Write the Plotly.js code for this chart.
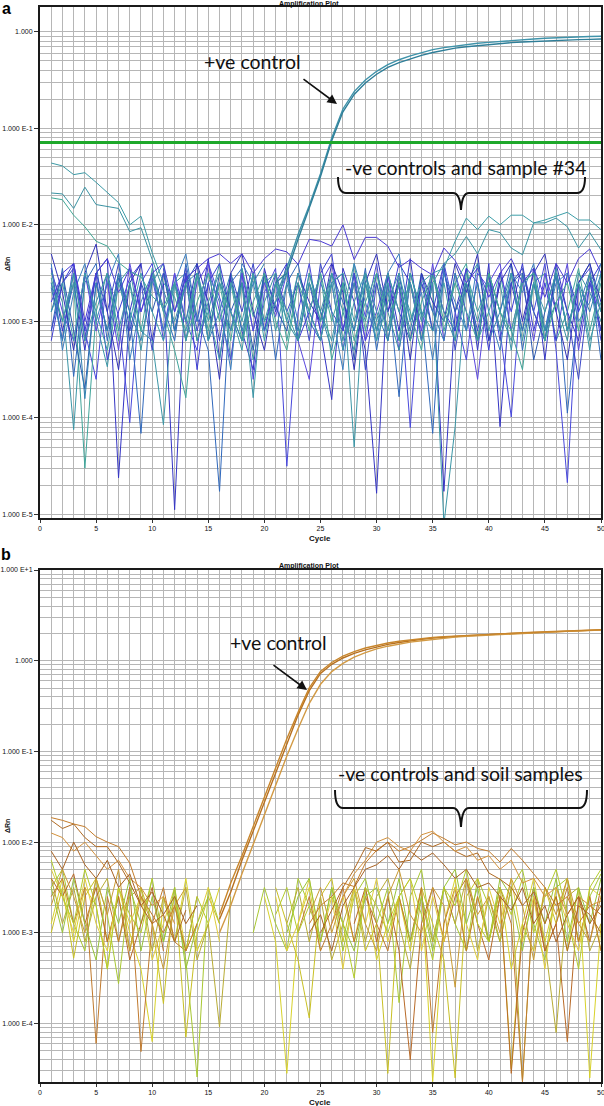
<!DOCTYPE html>
<html>
<head>
<meta charset="utf-8">
<script src="https://cdn.plot.ly/plotly-3.0.1.min.js"></script>
<style>
html,body{margin:0;padding:0;background:#fff;}
#chart{width:604px;height:1106px;}
</style>
</head>
<body>
<div id="chart"></div>
<script>
// ---------- DATA (values are log10 of ΔRn, null = not plotted) ----------
const cycles = [1,2,3,4,5,6,7,8,9,10,11,12,13,14,15,16,17,18,19,20,21,22,23,24,25,26,27,28,29,30,31,32,33,34,35,36,37,38,39,40,41,42,43,44,45,46,47,48,49,50];
const xTickVals = [0,5,10,15,20,25,30,35,40,45,50];
const xTickLabels = ["0","5","10","15","20","25","30","35","40","45","50"];
const aDecades = [-5,-4,-3,-2,-1,0];
const aDecadeLabels = ["1.000 E-5","1.000 E-4","1.000 E-3","1.000 E-2","1.000 E-1","1.000"];
const bDecades = [-4,-3,-2,-1,0,1];
const bDecadeLabels = ["1.000 E-4","1.000 E-3","1.000 E-2","1.000 E-1","1.000","1.000 E+1"];
const aThreshold = 0.0713;

// Panel a: positive controls
const aPos1 = [null,null,null,null,null,null,null,null,null,null,null,null,null,null,null,null,null,null,null,null,-2.75,-2.45,-2.1,-1.8,-1.47,-1.1,-0.8,-0.62,-0.5,-0.41,-0.34,-0.29,-0.25,-0.215,-0.185,-0.165,-0.148,-0.133,-0.12,-0.11,-0.10,-0.09,-0.083,-0.075,-0.068,-0.062,-0.057,-0.053,-0.05,-0.047];
const aPos2 = [null,null,null,null,null,null,null,null,null,null,null,null,null,null,null,null,null,null,null,null,-2.6,-2.5,-2.15,-1.83,-1.5,-1.13,-0.83,-0.65,-0.53,-0.44,-0.37,-0.32,-0.28,-0.245,-0.215,-0.19,-0.17,-0.155,-0.143,-0.132,-0.122,-0.113,-0.106,-0.1,-0.094,-0.089,-0.085,-0.082,-0.079,-0.076];
// Panel a: negatives
const aTeal1 = [-1.36,-1.39,-1.48,-1.46,-1.56,-1.67,-1.77,-2.0,-1.91,-2.29,-2.6,-2.75,-3.1,-2.5,-3.2,-2.6,-2.9,-3.3,-2.5,-3.0,-2.6,-2.9,-3.2,-2.5,-3.0,-2.6,-3.3,-2.8,-2.5,-3.1,-2.6,-3.2,-2.5,-2.9,-3.1,-2.6,-3.2,-2.5,-2.9,-2.6,-3.1,-2.5,-3.2,-2.6,-2.9,-2.5,-3.1,-2.6,-3.2,-2.8];
const aTeal2 = [-1.67,-1.68,-1.83,-1.61,-1.79,-1.81,-1.83,-2.07,-2.03,-2.36,-2.67,-3.0,-2.6,-3.2,-2.8,-2.5,-3.1,-2.6,-3.4,-2.8,-2.5,-3.0,-3.2,-2.6,-2.9,-2.5,-3.2,-2.6,-3.0,-2.5,-2.9,-3.3,-2.6,-3.0,-2.5,-2.9,-3.2,-2.6,-3.0,-2.5,-2.9,-3.2,-2.6,-2.5,-3.1,-2.8,-3.2,-2.5,-2.7,-3.0];
const aTeal3 = [-1.72,-1.74,-1.9,-2.02,-2.17,-2.22,-2.39,-2.48,-2.54,-2.74,-2.85,-2.6,-3.2,-2.8,-2.5,-3.0,-2.6,-3.2,-2.8,-2.5,-3.0,-3.3,-2.6,-2.9,-2.5,-3.0,-2.6,-3.2,-2.8,-2.5,-3.1,-2.6,-3.2,-2.8,-2.5,-3.0,-2.6,-2.9,-3.2,-2.5,-2.9,-3.1,-2.6,-2.5,-3.2,-2.8,-2.6,-3.1,-2.5,-2.9];
const aLate1 = [-2.9,-2.6,-3.2,-2.5,-2.9,-3.3,-2.6,-3.0,-2.5,-2.9,-3.2,-2.6,-3.0,-2.5,-2.9,-3.4,-2.6,-3.0,-2.5,-3.2,-2.6,-3.0,-2.5,-2.9,-3.2,-2.6,-2.5,-3.0,-2.6,-3.2,-2.8,-2.5,-3.0,-2.6,-2.5,-2.45,-2.17,-1.93,-2.05,-1.91,-2.0,-1.9,-1.9,-1.98,-1.95,-1.91,-1.87,-1.95,-1.95,-2.05];
const aLate2 = [-2.6,-3.0,-2.5,-3.2,-2.8,-2.5,-3.1,-2.6,-3.3,-2.5,-2.9,-2.6,-3.2,-2.5,-3.0,-2.6,-2.9,-3.2,-2.5,-3.0,-2.8,-2.5,-3.2,-2.6,-3.0,-2.5,-2.9,-3.3,-2.6,-3.0,-2.5,-2.9,-2.6,-3.2,-2.6,-2.4,-2.3,-2.12,-2.3,-2.05,-2.08,-2.24,-2.31,-1.98,-1.98,-1.93,-2.02,-2.24,-2.08,-2.26];
const aPurple = [-2.8,-2.5,-2.4,-3.0,-2.5,-2.35,-2.7,-2.45,-2.9,-2.5,-2.4,-2.9,-2.55,-2.45,-2.35,-2.3,-2.4,-2.3,-2.5,-2.35,-2.25,-2.28,-2.41,-2.15,-2.17,-2.22,-2.0,-2.36,-2.13,-2.13,-2.22,-2.44,-2.36,-2.45,-2.52,-2.24,-2.37,-2.6,-2.45,-2.75,-2.5,-2.35,-2.6,-2.45,-2.75,-2.4,-2.6,-2.35,-2.25,-2.5];
const aNeg1 = [-2.45,-3.1,-2.6,-3.3,-2.5,-2.35,-4.62,-2.9,-2.4,-3.2,-2.6,-4.95,-2.5,-3.0,-2.35,-3.4,-2.55,-3.1,-3.5,-2.45,-2.9,-2.4,-3.2,-2.6,-3.1,-3.81,-2.45,-2.8,-3.3,-4.78,-2.5,-3.1,-2.35,-3.2,-2.6,-4.76,-2.9,-2.45,-3.3,-2.4,-4.09,-2.6,-3.1,-2.45,-3.4,-2.4,-2.9,-3.2,-2.5,-3.1];
const aNeg2 = [-2.6,-3.19,-2.4,-3.1,-3.6,-2.5,-2.95,-4.05,-2.6,-2.4,-3.2,-2.5,-3.0,-3.3,-2.4,-2.75,-3.1,-2.5,-3.6,-2.7,-2.45,-4.5,-2.9,-2.4,-3.1,-2.6,-3.3,-2.5,-2.95,-2.4,-3.2,-2.6,-4.1,-2.5,-3.1,-2.4,-2.9,-3.4,-2.5,-2.65,-3.1,-3.99,-2.5,-2.9,-2.4,-3.3,-4.67,-2.6,-2.45,-3.2];
const aNeg3 = [-3.1,-2.45,-3.57,-2.6,-2.4,-3.2,-2.55,-2.9,-4.16,-2.5,-2.85,-3.2,-2.4,-2.95,-3.3,-4.76,-2.6,-2.45,-3.1,-2.5,-3.4,-2.6,-2.4,-3.0,-3.2,-2.5,-2.8,-3.1,-2.45,-3.3,-2.6,-3.78,-2.5,-2.9,-4.16,-2.45,-3.1,-2.6,-3.2,-2.5,-2.9,-2.4,-3.3,-2.6,-3.1,-2.5,-3.95,-2.85,-2.5,-3.4];
const aNeg4 = [-2.5,-2.8,-4.12,-2.5,-3.0,-3.47,-2.6,-2.45,-3.1,-3.2,-4.07,-2.6,-2.5,-3.2,-2.9,-2.4,-3.4,-2.6,-3.79,-2.5,-3.1,-2.6,null,-2.5,-2.9,-3.2,-2.6,-4.3,-2.5,-3.1,-2.7,-3.2,-2.5,-2.95,-2.6,-5.1,-4.09,-2.6,-2.4,-3.1,-2.6,-3.3,-2.5,-2.9,-3.2,-2.45,-3.1,-2.6,-3.3,-2.5];
const aNeg5 = [-2.55,-3.0,-2.6,-4.52,-2.9,-2.5,-3.2,-2.6,-3.1,-2.45,-2.9,-3.3,-3.79,-2.5,-3.1,-2.6,-3.2,-2.45,-2.95,-2.6,-2.5,-3.2,-2.6,-3.1,-2.5,-3.4,-2.9,-2.4,-3.1,-2.6,-3.2,-2.55,-2.9,-3.3,-2.5,-3.1,-2.6,-2.4,-3.2,-2.9,-2.5,-3.1,-3.5,-2.6,-2.5,-3.2,-2.9,-2.45,-3.1,-2.6];
const aNeg6 = [-3.2,-2.6,-2.4,-3.1,-2.5,-3.4,-2.9,-2.55,-2.4,null,-2.45,-3.1,-2.5,-3.5,-2.6,-2.4,-2.9,-3.2,-2.5,-3.1,-2.6,-2.4,-3.2,-2.9,-2.5,-2.3,-3.1,-2.6,-3.2,-2.5,-2.9,-2.4,-2.6,-3.2,-2.5,-2.9,-3.1,-2.45,-2.6,-3.3,-2.5,-2.9,-2.4,-3.1,-2.6,-3.2,-2.5,-2.9,-2.6,-2.4];
const aNeg7 = [-2.45,-2.9,-3.2,-2.5,-3.1,-2.6,-3.3,-2.4,-2.9,-2.55,-3.1,-2.5,-3.2,-2.6,-2.4,-2.9,-3.4,-2.5,-3.1,-2.6,-2.95,-2.5,-3.2,-3.6,-2.6,-2.4,-3.1,-2.5,-3.2,-2.9,-2.5,-3.3,-2.6,-3.1,-2.4,-3.2,-2.5,-2.9,-3.6,-2.6,-2.4,-3.1,-2.6,-3.2,-2.5,-2.9,-2.4,-3.3,-2.6,-2.9];
const aNeg8 = [-2.9,-2.5,-3.1,-3.7,-2.6,-3.1,-2.5,-3.2,-2.6,-2.9,-2.5,-3.1,-2.6,-2.4,-3.2,-2.5,-2.9,-2.6,-3.3,-2.5,-2.85,-3.1,-2.5,-2.9,-3.2,-2.6,-2.5,-3.4,-2.6,-3.1,-2.5,-2.9,-3.2,-2.6,-3.1,-2.5,-2.9,-2.6,-3.2,-2.5,-3.1,-2.6,-2.5,-3.4,-2.9,-2.5,-3.1,-2.6,-2.4,-2.9];
const aNeg9 = [-3.1,-2.6,-2.45,-3.2,-2.5,-2.9,-2.4,-3.1,-2.6,-3.3,-2.5,-2.9,-2.45,-3.1,-2.6,-3.2,-2.5,-2.9,-2.4,-3.1,-2.5,-2.9,-2.6,-3.2,-2.4,-2.9,-3.1,-2.5,-3.5,-2.6,-3.1,-2.5,-3.2,-2.6,-2.9,-2.4,-3.3,-2.6,-3.1,-2.5,-3.2,-2.6,-2.45,-2.9,-3.2,-2.5,-2.9,-3.6,-2.6,-3.1];
const aNeg10 = [-2.65,-3.2,-2.5,-3.8,-2.6,-3.1,-2.5,-2.9,-3.2,-2.6,-2.4,-3.1,-2.6,-2.5,-3.2,-2.9,-2.5,-3.1,-2.6,-2.4,null,-2.6,-3.1,-2.5,-2.9,-3.3,-2.6,-3.1,-2.5,-2.9,-3.2,-2.6,-3.1,-2.5,-2.9,-3.2,-2.5,-3.1,-2.6,-3.2,-2.9,-2.5,-3.1,-2.6,-3.2,-2.5,-3.1,-2.6,-2.9,-2.5];
const aNeg11 = [-2.3,-2.7,-3.3,-2.5,-2.2,-2.9,-3.5,-2.6,-2.4,null,null,-2.6,-3.0,-2.4,-2.8,-3.6,-2.5,-2.3,-2.9,-3.3,-2.6,null,-2.5,-2.8,-3.0,-2.4,-2.7,-3.5,-2.6,-2.3,-2.9,-2.6,-3.4,-2.5,-2.8,-3.0,-2.4,-2.7,-2.3,-3.2,-2.6,-2.4,-3.0,-2.5,-2.3,-2.9,-3.4,-2.6,-2.4,-2.8];
const aNeg12 = [-2.4,-3.3,-2.7,-2.4,-3.0,-2.6,-2.3,-3.4,-2.8,-2.5,-3.1,-2.6,-2.3,-3.0,-2.5,-2.8,-3.5,-2.4,-2.6,-3.1,-2.8,-2.5,-3.0,null,-2.6,-2.9,-3.5,-2.4,-2.8,-3.2,-2.5,-2.3,-3.0,-2.7,-3.4,-2.5,-2.8,-3.1,-2.4,-2.9,-3.3,-2.5,-2.7,-2.4,-3.1,-2.6,-2.5,-3.0,-2.8,-2.4];

// Panel b: positive controls
const bPos1 = [null,null,null,null,null,null,null,null,null,null,null,null,null,null,null,-2.85,-2.55,-2.2,-1.88,-1.55,-1.22,-0.9,-0.6,-0.33,-0.14,-0.04,0.03,0.08,0.12,0.15,0.18,0.2,0.22,0.235,0.25,0.26,0.27,0.275,0.28,0.29,0.295,0.3,0.305,0.31,0.315,0.32,0.325,0.33,0.335,0.34];
const bPos2 = [null,null,null,null,null,null,null,null,null,null,null,null,null,null,null,-3.0,-2.7,-2.35,-2.02,-1.7,-1.37,-1.05,-0.75,-0.47,-0.26,-0.12,-0.03,0.04,0.09,0.13,0.16,0.185,0.205,0.22,0.235,0.25,0.26,0.27,0.275,0.283,0.29,0.296,0.302,0.308,0.313,0.318,0.323,0.328,0.333,0.337];
const bPos3 = [null,null,null,null,null,null,null,null,null,null,null,null,null,null,null,-2.8,-2.45,-2.15,-1.83,-1.5,-1.18,-0.86,-0.57,-0.3,-0.12,-0.02,0.05,0.1,0.14,0.17,0.195,0.215,0.23,0.245,0.255,0.265,0.272,0.28,0.285,0.292,0.298,0.303,0.308,0.313,0.318,0.323,0.328,0.333,0.337,0.342];
// Panel b: negatives and soil samples
const bHump1 = [-1.73,-1.76,-1.8,-1.83,-1.94,-2.0,-2.05,-2.23,-2.6,-2.8,-3.0,-2.7,-3.2,-2.9,null,null,null,null,null,null,null,null,null,-2.9,-2.7,-2.6,-2.45,-2.49,-2.23,-2.09,-2.0,-2.1,-2.05,-1.98,-1.9,-1.96,-2.03,-2.0,-2.07,-2.1,-2.22,-2.07,-2.2,-2.35,-2.5,-2.7,-2.6,-2.9,-2.7,-2.8];
const bHump2 = [-1.76,-1.85,-1.8,-1.95,-2.05,-2.05,-2.23,-2.45,-2.7,-2.9,-2.8,-3.1,-2.75,null,null,null,null,null,null,null,null,null,null,null,-3.0,-2.75,-2.5,-2.3,-2.06,-2.1,-2.0,-2.22,-2.2,-2.0,-2.05,-2.0,-2.1,-2.16,-2.12,-2.34,-2.41,-2.5,-2.7,-2.55,-2.9,-2.6,-3.2,-2.7,-2.8,-3.0];
const bHump3 = [-1.9,-1.95,-2.1,-2.0,-2.15,-2.3,-2.2,-2.4,-2.5,-2.7,-2.6,-2.9,null,null,null,null,null,null,null,null,null,null,null,null,null,-2.9,-2.6,-2.35,-2.2,-2.0,-1.95,-2.05,-2.1,-1.92,-1.88,-2.0,-2.1,-2.05,-2.2,-2.15,-2.3,-2.2,-2.45,-2.4,-2.6,-2.5,-2.8,-2.6,-2.7,-2.65];
const bHump4 = [-2.1,-2.3,-2.0,-2.25,-2.4,-2.2,-2.5,-2.35,-2.7,-2.55,-2.8,-2.6,-2.9,-2.7,null,null,null,null,null,null,null,null,null,-3.0,-2.8,-3.2,-2.7,-2.5,-2.3,-2.25,-2.15,-2.3,-2.1,-2.2,-2.12,-2.25,-2.4,-2.3,-2.5,-2.45,-2.6,-2.75,-2.5,-2.9,-2.7,-3.1,-2.8,-2.6,-2.9,-2.7];
const bNeg1 = [-2.9,-2.4,-3.1,-2.5,-2.7,-3.4,-2.5,-3.0,-3.4,-4.2,-2.6,-3.1,-2.4,-3.2,-2.9,-2.5,null,null,null,-2.6,-3.1,-4.55,-2.9,-2.5,-3.2,null,-2.6,-3.1,-2.5,-3.3,-2.9,-2.6,-3.2,-2.5,-4.64,-2.9,-2.4,-3.2,-2.6,-3.1,-2.5,-3.4,-2.9,-2.4,-3.1,-2.6,-3.2,-2.5,-4.6,-2.9];
const bNeg2 = [-2.5,-2.3,-2.9,-3.2,-2.4,-2.8,-3.56,-2.5,-2.9,-2.4,-3.1,-2.6,-3.3,-4.59,-2.5,-2.9,null,null,-3.0,-2.5,-2.9,-3.2,-2.4,-2.7,-3.1,-2.5,-3.2,-2.6,-2.4,-2.9,-2.5,-3.77,-2.6,-2.3,-3.1,-2.5,-2.9,-3.2,-2.4,-2.7,-3.1,-2.5,-2.3,-2.9,-3.3,-2.5,-2.4,-3.1,-2.6,-2.35];
const bNeg3 = [-3.0,-2.5,-3.28,-2.6,-2.4,-3.1,-2.6,-3.2,-2.5,-2.9,-3.78,-2.5,-4.15,-3.0,-2.6,-2.9,null,null,null,null,-2.5,-2.9,-3.3,-3.94,-2.6,-2.4,-3.1,-2.5,-3.2,-2.9,-4.55,-2.6,-3.1,-2.5,-2.9,-3.3,-4.6,-2.6,-2.4,-3.1,-2.6,-4.5,-2.9,-3.2,-2.5,-2.9,-2.4,-3.1,-2.6,-3.2];
const bNeg4 = [-2.4,-2.9,-2.5,-3.1,-2.6,-2.4,-3.1,-2.6,-2.5,-3.2,-2.6,-3.1,-2.5,-3.3,-2.9,-4.04,-2.6,null,null,null,null,-2.9,-2.5,-3.1,-2.6,-3.3,-2.9,-2.5,-3.1,-2.6,-2.4,-2.9,-3.4,-2.6,-3.1,-2.5,-2.9,-2.4,-3.2,-2.6,-3.1,-2.5,-4.64,-2.6,-3.1,-4.1,-2.6,-2.5,-3.2,-2.9];
const bNeg5 = [-2.6,-2.4,-2.9,-2.5,-4.22,-2.6,-3.1,-2.5,-4.31,-2.9,-2.5,-3.1,-3.2,-2.6,null,null,null,null,null,null,null,null,-3.0,-2.6,-3.2,-2.9,-2.5,-3.1,-2.6,-2.9,-3.2,-2.6,-3.1,-2.5,-4.1,-2.9,-2.5,-3.2,-2.6,-3.1,-2.5,-2.9,-4.64,-2.6,-3.2,-2.9,-2.5,-3.1,-2.6,-3.2];
const bNeg6 = [-2.4,-2.6,-2.35,-2.9,-2.5,-3.1,-2.6,-3.3,-2.9,-2.5,-3.2,null,null,null,null,null,null,null,null,null,null,null,null,null,null,null,null,-2.9,-2.5,-3.1,-2.6,-3.2,-4.4,-2.9,-2.5,-3.1,-2.6,-2.4,-2.9,-3.3,-2.6,-4.55,-3.0,-2.5,-3.2,-2.9,-4.2,-2.6,-3.1,-2.5];
const bNeg7 = [-2.3,-2.6,-3.0,-2.4,-2.9,-3.2,-2.5,-2.9,-2.6,-3.3,-2.9,-2.5,-3.2,-2.9,-2.5,-3.1,null,null,null,null,-2.6,-3.2,-2.9,-2.4,-3.1,-2.6,-3.4,-2.5,-2.9,-2.4,-3.1,-2.6,-2.4,-3.2,-2.6,-3.1,-2.5,-2.9,-3.3,-2.5,-2.9,-2.4,-3.1,-2.6,-3.4,-2.5,-2.9,-3.2,-2.5,-2.6];
const bNeg8 = [-2.5,-3.0,-2.4,-2.9,-3.3,-2.5,-2.9,-2.4,-3.2,-2.6,-3.1,-2.5,-3.4,-2.9,-2.6,null,null,null,null,null,null,-3.0,-2.6,-2.4,-3.1,-2.5,-2.9,-3.2,-2.6,-2.5,-2.9,-2.4,-3.1,-2.6,-3.2,-2.5,-2.3,-2.9,-2.5,-3.1,-2.4,-2.6,-3.2,-2.5,-2.9,-2.4,-3.1,-2.5,-2.9,-2.4];
const bNeg9 = [-2.2,-2.6,-2.9,-2.3,-2.7,-3.4,-2.5,-2.8,-3.0,-2.4,null,-2.7,-3.2,-2.6,-2.9,null,null,null,null,null,-2.8,-2.5,-3.0,-2.7,null,-2.6,-2.9,-3.5,-2.5,-2.7,-3.0,-2.6,-2.4,-2.8,-3.3,-2.5,-2.7,-2.3,-2.9,-3.1,-2.5,-2.8,-2.4,-3.0,-2.6,-2.3,-2.8,-3.4,-2.5,-2.3];
const bNeg10 = [-2.7,-2.3,-2.6,-3.0,-2.4,-2.8,-2.3,-3.2,-2.6,-2.9,-3.4,-2.7,-2.5,null,null,null,null,null,null,null,null,null,null,-2.8,-2.5,-3.0,-2.6,-2.4,-2.9,-3.2,-2.6,-2.3,-2.8,-3.0,-2.5,-2.7,-3.6,-2.4,-2.8,-2.6,-3.0,-2.4,-2.7,-3.3,-2.5,-2.8,-2.4,-2.9,-3.1,-2.6];

// ---------- helpers ----------
const W = 604, H = 1106;
const px = x => x / W;
const py = y => 1 - y / H;
const toRn = arr => arr.map(v => v === null ? null : Math.pow(10, v));

function line(vals, color, width, xa, ya) {
  return {x: cycles, y: toRn(vals), type: 'scatter', mode: 'lines',
          line: {color: color, width: width}, connectgaps: false,
          xaxis: xa, yaxis: ya, hoverinfo: 'skip'};
}

const aSeries = [
  [aNeg1,'#3434c4'],[aNeg2,'#4848dc'],[aNeg3,'#2f68bc'],[aNeg4,'#3b96a6'],[aNeg5,'#40a59a'],
  [aNeg6,'#3c3cd4'],[aNeg7,'#5a46de'],[aNeg8,'#2a58b0'],[aNeg9,'#3c48c8'],[aNeg10,'#2f80b0'],
  [aNeg11,'#3030b8'],[aNeg12,'#3a7ec0'],
  [aTeal1,'#3c9aa6'],[aTeal2,'#3a92a2'],[aTeal3,'#42a896'],
  [aLate1,'#3c9ea8'],[aLate2,'#3a96a4'],[aPurple,'#4a3ad4']
];
const bSeries = [
  [bNeg1,'#d8d22a'],[bNeg2,'#a8c832'],[bNeg3,'#c8c024'],[bNeg4,'#b8ac34'],
  [bNeg5,'#c07a2e'],[bNeg6,'#b86a28'],[bNeg7,'#e0cc3c'],[bNeg8,'#98c43a'],
  [bNeg9,'#b4cc2c'],[bNeg10,'#c89a34'],
  [bHump1,'#c47c2a'],[bHump2,'#b06a22'],[bHump3,'#d4923c'],[bHump4,'#a86222']
];

const traces = [];
aSeries.forEach(s => traces.push(line(s[0], s[1], 1, 'x', 'y')));
traces.push(line(aPos1, '#3f93aa', 1.4, 'x', 'y'));
traces.push(line(aPos2, '#2e7e98', 1.4, 'x', 'y'));
traces.push({x: [0, 50], y: [aThreshold, aThreshold], type: 'scatter', mode: 'lines',
  line: {color: '#1ea82a', width: 3}, xaxis: 'x', yaxis: 'y', hoverinfo: 'skip'});
bSeries.forEach(s => traces.push(line(s[0], s[1], 1, 'x2', 'y2')));
traces.push(line(bPos1, '#b8701e', 1.4, 'x2', 'y2'));
traces.push(line(bPos2, '#d29a44', 1.4, 'x2', 'y2'));
traces.push(line(bPos3, '#c8862c', 1.4, 'x2', 'y2'));

// ---------- axes ----------
function logMinor(decades, lo, hi) {
  const v = [];
  for (let d = decades[0] - 1; d <= decades[decades.length - 1] + 1; d++) {
    for (let m = 1; m <= 9; m++) {
      const val = m * Math.pow(10, d);
      const lg = Math.log10(val);
      if (lg >= lo && lg <= hi) v.push(val);
    }
  }
  return v;
}
const tickFont = {family: 'Liberation Sans, Arial, sans-serif', size: 7, color: '#111'};
const gridC = '#b6b6b6';

function xAxis(anchor) {
  return {domain: [px(40), px(601)], range: [0, 50], anchor: anchor,
    tickmode: 'array', tickvals: xTickVals, ticktext: xTickLabels, ticklabeloverflow: 'allow',
    ticks: 'outside', ticklen: 3, tickcolor: '#333', tickfont: tickFont,
    showgrid: true, gridcolor: gridC, gridwidth: 1,
    minor: {dtick: 1, tick0: 0, showgrid: true, gridcolor: gridC, gridwidth: 1, ticks: ''},
    showline: true, linecolor: '#1a1a1a', linewidth: 2, mirror: true, zeroline: false, fixedrange: true};
}
function yAxis(anchor, dom, range, decades, labels) {
  return {domain: dom, type: 'log', range: range, anchor: anchor,
    tickmode: 'array', tickvals: decades.map(d => Math.pow(10, d)), ticktext: labels,
    ticks: 'outside', ticklen: 4, tickcolor: '#333', tickfont: tickFont,
    showgrid: true, gridcolor: gridC, gridwidth: 1,
    minor: {tickmode: 'array', tickvals: logMinor(decades, range[0], range[1]),
            showgrid: true, gridcolor: gridC, gridwidth: 1, ticks: ''},
    showline: true, linecolor: '#1a1a1a', linewidth: 2, mirror: true, zeroline: false, fixedrange: true};
}

const aRange = [-5.036, 0.256];
const bRange = [-4.645, 1.0];

// ---------- annotations & shapes ----------
const smallBold = {family: 'Liberation Sans, Arial, sans-serif', size: 7, color: '#111', weight: 'bold'};
const bigText = {family: 'Lato, Open Sans, sans-serif', size: 19.5, color: '#111'};
function ann(text, x, y, font, extra) {
  return Object.assign({text: text, x: px(x), y: py(y), xref: 'paper', yref: 'paper',
    showarrow: false, xanchor: 'center', yanchor: 'middle', font: font}, extra || {});
}
function arrow(tx, ty, fx, fy) {
  return {text: '', x: px(tx), y: py(ty), xref: 'paper', yref: 'paper', showarrow: true,
    ax: fx - tx, ay: fy - ty, axref: 'pixel', ayref: 'pixel',
    arrowhead: 2, arrowsize: 1.2, arrowwidth: 1.6, arrowcolor: '#111', standoff: 0};
}
function brace(x0, x1, yTop, yMid, yTip, xc) {
  const r = 8;
  const p = 'M ' + px(x0) + ',' + py(yTop) +
    ' Q ' + px(x0) + ',' + py(yMid) + ' ' + px(x0 + r) + ',' + py(yMid) +
    ' L ' + px(xc - 8) + ',' + py(yMid) +
    ' Q ' + px(xc - 1) + ',' + py(yMid) + ' ' + px(xc) + ',' + py(yTip) +
    ' Q ' + px(xc + 1) + ',' + py(yMid) + ' ' + px(xc + 8) + ',' + py(yMid) +
    ' L ' + px(x1 - r) + ',' + py(yMid) +
    ' Q ' + px(x1) + ',' + py(yMid) + ' ' + px(x1) + ',' + py(yTop);
  return {type: 'path', path: p, xref: 'paper', yref: 'paper', line: {color: '#111', width: 2}};
}

const annotations = [
  ann('a', 6, 9, {family: 'Liberation Sans, Arial, sans-serif', size: 16, color: '#000', weight: 'bold'}),
  ann('b', 6, 554, {family: 'Liberation Sans, Arial, sans-serif', size: 16, color: '#000', weight: 'bold'}),
  ann('Amplification Plot', 309, 4, smallBold),
  ann('Amplification Plot', 309, 566, smallBold),
  ann('Cycle', 320, 539, Object.assign({}, smallBold, {size: 8})),
  ann('Cycle', 320, 1102, Object.assign({}, smallBold, {size: 8})),
  ann('ΔRn', 7, 264, smallBold, {textangle: -90}),
  ann('ΔRn', 7, 826, smallBold, {textangle: -90}),
  ann('+ve control', 253, 62, bigText),
  ann('+ve control', 278, 642, bigText),
  ann('-ve controls and sample #34', 465, 167, bigText),
  ann('-ve controls and soil samples', 460, 773, bigText),
  arrow(337, 104, 302, 78),
  arrow(307, 690, 272, 664)
];
const shapes = [
  brace(338, 585, 177, 193, 210, 461),
  brace(335, 587, 790, 808, 827, 461)
];

const layout = {
  width: W, height: H, margin: {l: 0, r: 0, t: 0, b: 0},
  paper_bgcolor: '#fff', plot_bgcolor: '#fff', showlegend: false,
  xaxis: xAxis('y'),
  yaxis: yAxis('x', [py(518), py(7)], aRange, aDecades, aDecadeLabels),
  xaxis2: xAxis('y2'),
  yaxis2: yAxis('x2', [py(1082), py(570)], bRange, bDecades, bDecadeLabels),
  annotations: annotations, shapes: shapes
};

Plotly.newPlot('chart', traces, layout, {staticPlot: true, displayModeBar: false});
</script>
</body>
</html>
